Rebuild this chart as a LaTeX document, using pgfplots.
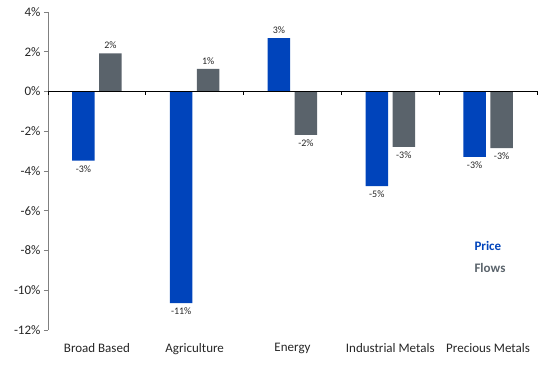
\documentclass[border=0pt]{standalone}
\usepackage{fontspec}
\setmainfont{Carlito}
\usepackage{pgfplots}
\pgfplotsset{compat=1.18}
\definecolor{priceblue}{RGB}{0,68,187}
\definecolor{flowgray}{RGB}{90,99,107}
\definecolor{axisgray}{RGB}{128,128,128}
\begin{document}
\begin{tikzpicture}
\begin{axis}[
  at={(0,0)}, anchor=south west,
  scale only axis,
  width=489pt, height=318pt,
  xmin=-0.5, xmax=4.5,
  ymin=-12, ymax=4,
  ybar=4.5pt, bar width=22.5pt,
  axis x line*=bottom, axis y line*=left,
  x axis line style={draw=none},
  y axis line style={draw=axisgray, line width=0.8pt},
  xtick={0,1,2,3,4},
  xticklabels={Broad Based,Agriculture,Energy,Industrial Metals,Precious Metals},
  x tick style={draw=none},
  xticklabel style={font=\fontsize{13}{15}\selectfont, text=black!85, yshift=-5.5pt},
  ytick={-12,-10,-8,-6,-4,-2,0,2,4},
  yticklabels={-12\%,-10\%,-8\%,-6\%,-4\%,-2\%,0\%,2\%,4\%},
  y tick style={draw=axisgray, line width=0.8pt},
  tick align=outside,
  major tick length=4pt,
  yticklabel style={font=\fontsize{13}{15}\selectfont, text=black!85},
  point meta=y,
  nodes near coords={\pgfmathprintnumber[fixed,precision=0,assume math mode=true]{\pgfplotspointmeta}\%},
  nodes near coords align=vertical,
  nodes near coords style={font=\fontsize{10}{11}\selectfont, text=black!85, inner sep=4.5pt},
  clip=false,
]
\addplot[fill=priceblue, draw=none] coordinates {
  (0,-3.48)
  (1,-10.65)
  (2,2.69)
  (3,-4.76)
  (4,-3.29)
};
\addplot[fill=flowgray, draw=none] coordinates {
  (0,1.92)
  (1,1.14)
  (2,-2.18)
  (3,-2.78)
  (4,-2.85)
};
\draw[black, line width=0.9pt] (axis cs:-0.5,0) -- (axis cs:4.5,0);
\pgfplotsinvokeforeach{-0.5,0.5,1.5,2.5,3.5,4.5}{
  \draw[black, line width=0.6pt] (axis cs:#1,0) -- ([yshift=-4pt]axis cs:#1,0);
}
\node[anchor=west, text=priceblue, font=\bfseries\fontsize{13}{15}\selectfont] at (rel axis cs:0.865,0.264) {Price};
\node[anchor=west, text=flowgray, font=\bfseries\fontsize{13}{15}\selectfont] at (rel axis cs:0.865,0.195) {Flows};
\end{axis}
\pgfresetboundingbox
\useasboundingbox (-48pt,-40pt) rectangle (502pt,330pt);
\end{tikzpicture}
\end{document}
